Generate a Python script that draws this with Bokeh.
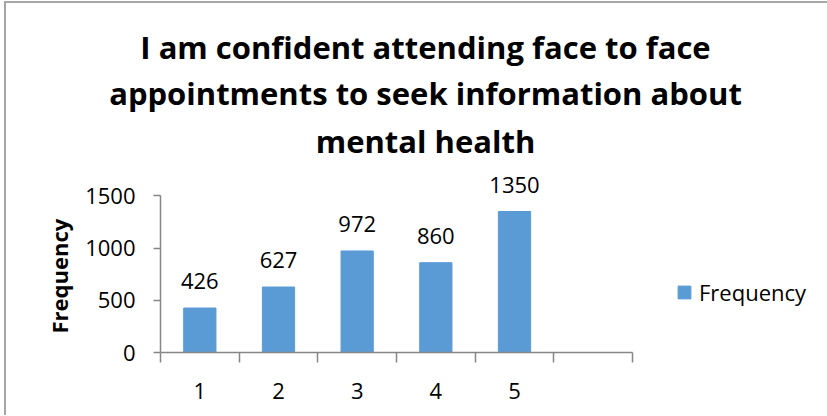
from bokeh.plotting import figure
from bokeh.models import (ColumnDataSource, FixedTicker, Range1d, LabelSet, Legend,
                          LegendItem, Title)
from bokeh.core.properties import value
from bokeh.embed import file_html
from bokeh.resources import INLINE

# ---- data ----
categories = [1, 2, 3, 4, 5]
frequency = [426, 627, 972, 860, 1350]
y_ticks = [0, 500, 1000, 1500]
title_lines = ["I am confident attending face to face",
               "appointments to seek information about",
               "mental health"]
series_name = "Frequency"
y_label = "Frequency"

BAR = "#5B9BD5"
AXIS = "#868686"
FONT = "Open Sans"

# category slots: 6 slots drawn along the axis, frame a bit wider so that
# the title is centred where the reference has it
n_slots = 6
axis_px = 472
frame_px = 530

src = ColumnDataSource(dict(x=categories, top=frequency,
                            label=[str(v) for v in frequency]))

x_end = 0.5 + n_slots * frame_px / axis_px
p = figure(width=811, height=413, frame_width=frame_px, frame_height=188,
           output_backend="svg", toolbar_location=None,
           x_range=Range1d(0.5, x_end), y_range=Range1d(0, 1800),
           min_border_left=154, min_border_right=127,
           min_border_top=161, min_border_bottom=63)
p.title = None
p.grid.visible = False
p.outline_line_color = None
p.background_fill_color = "white"
p.border_fill_color = "white"

r = p.vbar(x="x", top="top", width=0.41, source=src, fill_color=BAR,
           line_color=BAR)

# title: added bottom line first (closest to the frame)
for i, line in enumerate(reversed(title_lines)):
    t = Title(text=line, align="center",
              text_font=FONT, text_font_style="bold", text_font_size="31px",
              text_color="black", standoff=6 if i == 0 else 2)
    p.add_layout(t, "above")

# x axis
xa = p.xaxis[0]
xa.bounds = (0.5, 0.5 + n_slots)
xa.ticker = FixedTicker(ticks=categories,
                        minor_ticks=[k + 0.5 for k in range(n_slots + 1)])
xa.major_tick_out = 0
xa.major_tick_in = 0
xa.major_tick_line_color = None
xa.minor_tick_out = 10
xa.minor_tick_in = 0
xa.minor_tick_line_color = AXIS
xa.axis_line_color = AXIS
xa.axis_line_width = 1.5
xa.minor_tick_line_width = 1.5
xa.major_label_standoff = 20
xa.major_label_text_font = FONT
xa.major_label_text_font_size = "22px"
xa.major_label_text_color = "black"

# y axis
ya = p.yaxis[0]
ya.ticker = FixedTicker(ticks=y_ticks, minor_ticks=[])
ya.bounds = (0, 1500)
ya.major_tick_out = 7
ya.major_tick_in = 0
ya.major_tick_line_color = AXIS
ya.major_tick_line_width = 1.5
ya.axis_line_color = AXIS
ya.axis_line_width = 1.5
ya.major_label_standoff = 18
ya.major_label_text_font = FONT
ya.major_label_text_font_size = "22px"
ya.major_label_text_color = "black"

# y-axis title, centred on the drawn 0-1500 axis (not on the taller frame)
yt = Title(text=y_label, align="left", offset=19, standoff=17,
           text_font=FONT, text_font_style="bold", text_font_size="22px",
           text_color="black")
p.add_layout(yt, "left")

# data labels
labels = LabelSet(x="x", y="top", text="label", source=src, y_offset=19,
                  text_align="center", text_baseline="alphabetic",
                  text_font=value(FONT), text_font_size=value("22px"),
                  text_color="black")
p.add_layout(labels)

# legend
legend = Legend(items=[LegendItem(label=series_name, renderers=[r])],
                location=(-14, 45), padding=0, margin=0, spacing=0,
                glyph_width=16, glyph_height=16, label_standoff=7,
                label_text_font=FONT, label_text_font_size="22px",
                label_text_color="black",
                border_line_color=None, background_fill_alpha=0)
p.add_layout(legend, "right")

p.styles = {"margin-left": "4px", "margin-top": "1px",
            "border-left": "2px solid #a6a6a6", "border-top": "2px solid #a6a6a6"}

open("out.html", "w").write(file_html(p, INLINE))
